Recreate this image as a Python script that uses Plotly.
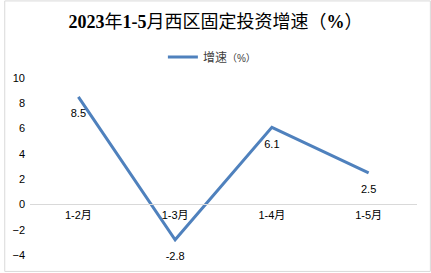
import plotly.graph_objects as go

# Monthly cumulative fixed-asset investment growth, West District, 2023
periods = ["1-2月", "1-3月", "1-4月", "1-5月"]
growth = [8.5, -2.8, 6.1, 2.5]
value_labels = ["8.5", "-2.8", "6.1", "2.5"]
y_ticks = [-4, -2, 0, 2, 4, 6, 8, 10]

title_text = "<b>2023</b>年<b>1-5</b>月西区固定投资增速（<b>%</b>）"
series_name = "增速<span style='font-size:10px'>（%）</span>"

W, H = 431, 273
ML, MR, MT, MB = 26, 14, 78, 17
PW, PH = W - ML - MR, H - MT - MB

LINE_COLOR = "#4f81bd"
SANS = "Liberation Sans, Noto Sans CJK SC, sans-serif"
SERIF = "Liberation Serif, Noto Sans CJK SC, serif"

fig = go.Figure()
fig.add_trace(go.Scatter(
    x=periods,
    y=growth,
    name=series_name,
    mode="lines+markers+text",
    line=dict(color=LINE_COLOR, width=3),
    marker=dict(size=18, color="rgba(0,0,0,0)"),
    text=value_labels,
    textposition="bottom center",
    textfont=dict(family=SANS, size=11, color="#000000"),
    cliponaxis=False,
))

ymin, ymax = -4, 10
fig.update_layout(
    width=W,
    height=H,
    margin=dict(l=ML, r=MR, t=MT, b=MB),
    paper_bgcolor="white",
    plot_bgcolor="white",
    title=dict(
        text=title_text,
        x=0.5,
        xref="container",
        y=1 - 22 / H,
        yref="container",
        xanchor="center",
        yanchor="middle",
        font=dict(family=SERIF, size=18, color="#000000", weight="normal"),
    ),
    showlegend=True,
    legend=dict(
        orientation="h",
        x=0.47,
        xanchor="center",
        y=1 + 21 / PH,
        yanchor="middle",
        font=dict(family=SANS, size=12, color="#404040"),
        itemwidth=30,
        bgcolor="rgba(0,0,0,0)",
    ),
    xaxis=dict(
        type="category",
        range=[-0.5, len(periods) - 0.5],
        anchor="free",
        position=(0 - ymin) / (ymax - ymin),
        showline=True,
        linecolor="#d9d9d9",
        linewidth=1,
        showgrid=False,
        ticks="",
        tickfont=dict(family=SANS, size=11, color="#000000"),
        fixedrange=True,
    ),
    yaxis=dict(
        range=[ymin, ymax],
        tickvals=y_ticks,
        showgrid=False,
        zeroline=False,
        showline=False,
        ticks="",
        ticklabelstandoff=4,
        tickfont=dict(family=SANS, size=11, color="#000000"),
        fixedrange=True,
    ),
)

# Outer chart border
fig.add_shape(
    type="rect",
    xref="paper",
    yref="paper",
    x0=(0.5 - ML) / PW,
    x1=(W - 0.5 - ML) / PW,
    y0=(H - MB - (H - 0.5)) / PH,
    y1=(H - MB - 0.5) / PH,
    line=dict(color="#d9d9d9", width=1),
    layer="below",
)

fig.write_html("out.html")
